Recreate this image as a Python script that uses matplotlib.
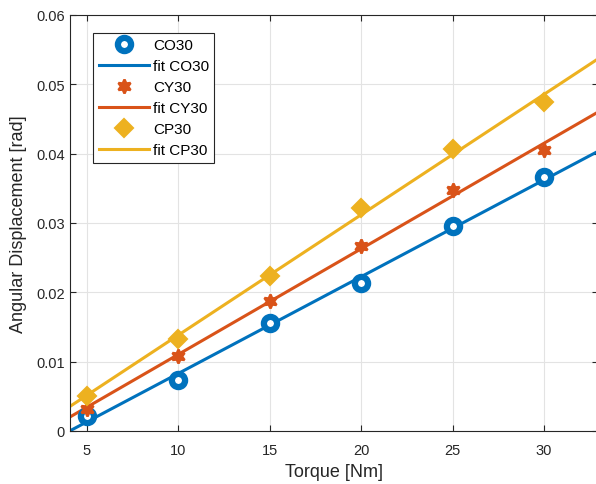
import numpy as np
import matplotlib
matplotlib.use('Agg')
from matplotlib import pyplot as plt

plt.rcParams['font.family'] = ['Liberation Sans', 'DejaVu Sans']

torque = [5, 10, 15, 20, 25, 30]
co30 = [0.0022, 0.0074, 0.0155, 0.0214, 0.0295, 0.0366]
cy30 = [0.0032, 0.0108, 0.0188, 0.0267, 0.0348, 0.0405]
cp30 = [0.0051, 0.0133, 0.0224, 0.0322, 0.0406, 0.0475]

names = ['CO30', 'CY30', 'CP30']
colors = ['#0072BD', '#D95319', '#EDB120']
x_limits = (4.07, 32.95)

fig = plt.figure(figsize=(5.96, 4.85), dpi=100)
ax = fig.add_axes([0.1174, 0.1093, 0.886, 0.858])

x_fit = np.linspace(x_limits[0], x_limits[1], 50)
for name, data, color in zip(names, [co30, cy30, cp30], colors):
    if name == 'CO30':
        ax.plot(torque, data, linestyle='none', marker='o', markersize=9.5,
                markerfacecolor='white', markeredgecolor=color,
                markeredgewidth=4.5, label=name, zorder=3)
    elif name == 'CY30':
        ax.plot(torque, data, linestyle='none', marker=(6, 1, 0),
                markersize=10, color=color, markeredgewidth=1.8,
                label=name, zorder=3)
    else:
        ax.plot(torque, data, linestyle='none', marker='D', markersize=9.5,
                color=color, markeredgewidth=1.5, label=name, zorder=3)
    # linear fit
    p = np.polyfit(torque, data, 1)
    ax.plot(x_fit, np.polyval(p, x_fit), color=color, linewidth=2.2,
            label='fit ' + name, zorder=2)

ax.set_xlim(*x_limits)
ax.set_ylim(0, 0.06)
ax.set_xticks([5, 10, 15, 20, 25, 30])
ax.set_yticks([0, 0.01, 0.02, 0.03, 0.04, 0.05, 0.06])
ax.set_yticklabels(['0', '0.01', '0.02', '0.03', '0.04', '0.05', '0.06'])
ax.grid(True, color='#e3e3e3', linewidth=0.8)
ax.set_axisbelow(True)
ax.tick_params(direction='in', length=4, labelsize=10.5, colors='#262626',
               top=True, right=True)
ax.tick_params(axis='x', pad=9)
for spine in ax.spines.values():
    spine.set_color('#262626')
    spine.set_linewidth(0.8)

ax.set_xlabel('Torque [Nm]', fontsize=13, color='#262626', labelpad=4)
ax.set_ylabel('Angular Displacement [rad]', fontsize=13, color='#262626',
              labelpad=7)

leg = ax.legend(loc='upper left', bbox_to_anchor=(0.044, 0.957),
                fontsize=11, fancybox=False, edgecolor='#262626',
                framealpha=1, handlelength=3.3, handletextpad=0.25,
                borderpad=0.35, labelspacing=0.46, borderaxespad=0)
leg.get_frame().set_linewidth(0.8)

fig.savefig('out.png', dpi=100)
